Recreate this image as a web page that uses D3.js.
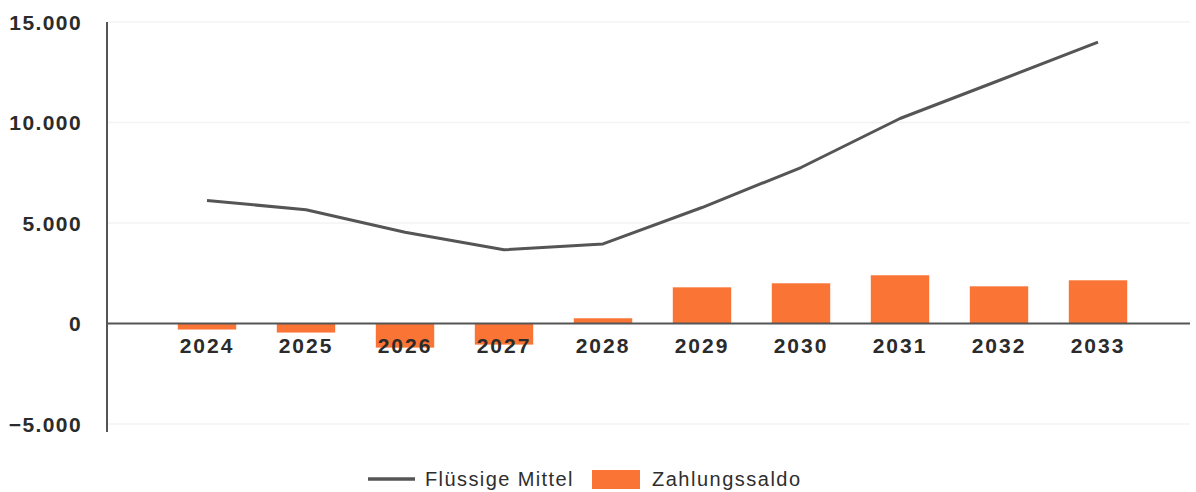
<!DOCTYPE html>
<html><head><meta charset="utf-8">
<script src="https://cdn.jsdelivr.net/npm/d3@7"></script>
<style>
html,body{margin:0;padding:0;background:#fff;}
svg{display:block;}
text{font-family:"Liberation Sans",Arial,sans-serif;}
</style></head>
<body>
<svg id="c" width="1196" height="492"></svg>
<script>
const years = ["2024","2025","2026","2027","2028","2029","2030","2031","2032","2033"];
const fluessigeMittel = [6120, 5660, 4540, 3670, 3960, 5770, 7760, 10200, 12090, 14000];
const zahlungssaldo = [-300, -450, -1200, -1050, 260, 1800, 2000, 2400, 1850, 2150];
const yTicks = [-5000, 0, 5000, 10000, 15000];
const seriesNames = ["Flüssige Mittel", "Zahlungssaldo"];

const svg = d3.select("#c");
const x = d3.scaleBand().domain(years).range([157.5, 1147.5]).paddingInner(0.41).paddingOuter(0.205);
const y = d3.scaleLinear().domain([-5000, 15000]).range([424, 22]);
const fmt = v => d3.format(",")(v).replace(/,/g, ".");

// faint gridlines
svg.append("g").selectAll("line").data(yTicks.filter(v => v !== 0)).join("line")
  .attr("x1", 108).attr("x2", 1190)
  .attr("y1", d => y(d)).attr("y2", d => y(d))
  .attr("stroke", "#f3f3f3").attr("stroke-width", 1.5);

// y axis labels
svg.append("g").selectAll("text").data(yTicks).join("text")
  .attr("x", 82).attr("y", d => y(d)).attr("dy", "0.36em")
  .attr("text-anchor", "end").attr("font-size", 21).attr("font-weight", "bold")
  .attr("letter-spacing", 1.4).attr("fill", "#2b2b2b")
  .text(d => fmt(d));

// bars
svg.append("g").selectAll("rect").data(years).join("rect")
  .attr("x", d => x(d))
  .attr("width", x.bandwidth())
  .attr("y", (d, i) => Math.min(y(0), y(zahlungssaldo[i])))
  .attr("height", (d, i) => Math.abs(y(zahlungssaldo[i]) - y(0)))
  .attr("fill", "#fa7435");

// y axis line
svg.append("line").attr("x1", 107).attr("x2", 107).attr("y1", 22).attr("y2", 432)
  .attr("stroke", "#555").attr("stroke-width", 2);
// zero line
svg.append("line").attr("x1", 107).attr("x2", 1190).attr("y1", y(0)).attr("y2", y(0))
  .attr("stroke", "#555").attr("stroke-width", 1.8);

// x labels
svg.append("g").selectAll("text").data(years).join("text")
  .attr("x", d => x(d) + x.bandwidth() / 2).attr("y", y(0) + 22).attr("dy", "0.36em")
  .attr("text-anchor", "middle").attr("font-size", 21).attr("font-weight", "bold")
  .attr("letter-spacing", 2).attr("fill", "#2b2b2b")
  .text(d => d);

// line
const line = d3.line().x((d, i) => x(years[i]) + x.bandwidth() / 2).y(d => y(d));
svg.append("path").datum(fluessigeMittel).attr("d", line)
  .attr("fill", "none").attr("stroke", "#555").attr("stroke-width", 3)
  .attr("stroke-linejoin", "round");

// legend
const lg = svg.append("g");
lg.append("line").attr("x1", 368).attr("x2", 415).attr("y1", 479).attr("y2", 479)
  .attr("stroke", "#555").attr("stroke-width", 3.5);
lg.append("text").attr("x", 425).attr("y", 479).attr("dy", "0.36em")
  .attr("font-size", 20).attr("fill", "#2e2e2e").attr("letter-spacing", 1.4).text(seriesNames[0]);
lg.append("rect").attr("x", 592).attr("y", 470).attr("width", 48).attr("height", 19).attr("fill", "#fa7435");
lg.append("text").attr("x", 652).attr("y", 479).attr("dy", "0.36em")
  .attr("font-size", 20).attr("fill", "#2e2e2e").attr("letter-spacing", 1.5).text(seriesNames[1]);
</script>
</body></html>
